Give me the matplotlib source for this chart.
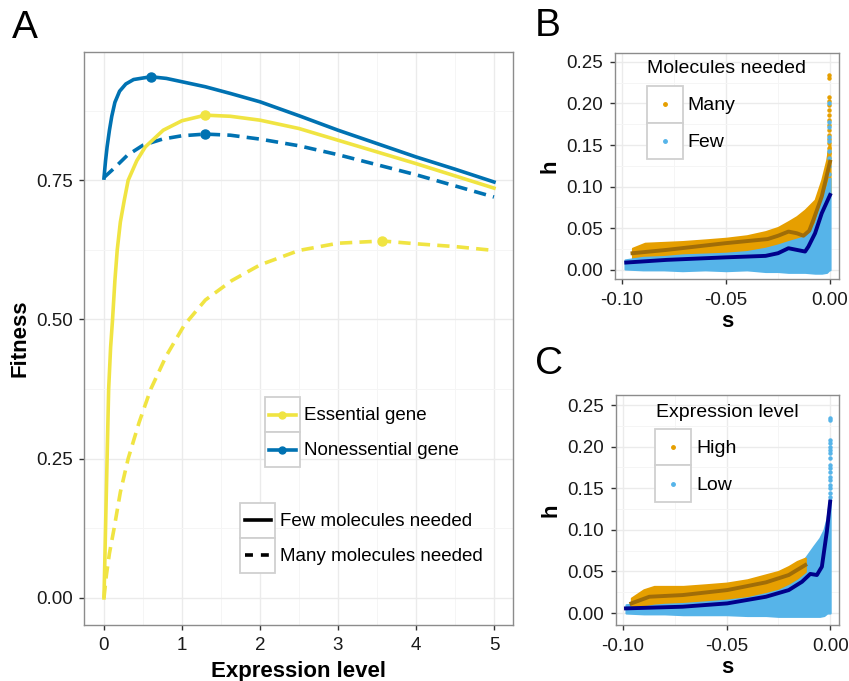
import numpy as np
import matplotlib
matplotlib.use('Agg')
import matplotlib.pyplot as plt
from matplotlib.lines import Line2D
from matplotlib.patches import Rectangle
from matplotlib.legend_handler import HandlerBase
from matplotlib.ticker import MultipleLocator, FormatStrFormatter

plt.rcParams['font.family'] = ['Liberation Sans', 'DejaVu Sans']

# ---- Panel A data ----
ess_few_x = [0, 0.01, 0.02, 0.04, 0.06, 0.085, 0.11, 0.14, 0.17, 0.21, 0.26, 0.31, 0.42,
             0.53, 0.76, 1.0, 1.3, 1.62, 2.0, 2.5, 3.0, 3.5, 4.0, 4.5, 5.0]
ess_few_y = [0.0, 0.06, 0.125, 0.25, 0.375, 0.45, 0.5, 0.57, 0.625, 0.675, 0.714, 0.75, 0.785,
             0.81, 0.84, 0.857, 0.867, 0.865, 0.858, 0.843, 0.822, 0.801, 0.78, 0.758, 0.736]
ess_many_x = [0, 0.03, 0.07, 0.13, 0.21, 0.31, 0.45, 0.6, 0.8, 1.03, 1.3, 1.64, 2.0, 2.5,
              3.0, 3.57, 4.0, 4.5, 5.0]
ess_many_y = [0.0, 0.04, 0.08, 0.125, 0.19, 0.25, 0.315, 0.375, 0.435, 0.49, 0.535, 0.57, 0.598,
              0.624, 0.637, 0.641, 0.636, 0.631, 0.624]
non_few_x = [0, 0.02, 0.04, 0.07, 0.1, 0.14, 0.2, 0.28, 0.38, 0.6, 0.8, 1.0, 1.3, 1.62, 2.0,
             2.5, 3.0, 3.5, 4.0, 4.5, 5.0]
non_few_y = [0.754, 0.785, 0.81, 0.84, 0.865, 0.89, 0.91, 0.923, 0.931, 0.936, 0.933, 0.927,
             0.918, 0.906, 0.891, 0.866, 0.84, 0.816, 0.792, 0.77, 0.747]
non_many_x = [0, 0.14, 0.3, 0.5, 0.75, 1.0, 1.3, 1.62, 2.0, 2.5, 3.0, 3.5, 4.0, 4.5, 5.0]
non_many_y = [0.755, 0.773, 0.795, 0.813, 0.824, 0.83, 0.833, 0.831, 0.824, 0.812, 0.796,
              0.778, 0.76, 0.74, 0.72]
peak_ess_x = [1.3, 3.57]
peak_ess_y = [0.867, 0.641]
peak_non_x = [0.6, 1.3]
peak_non_y = [0.936, 0.833]

# ---- Panel B data: point clouds as envelopes, smooth fits, spike points at s ~ 0 ----
many_s = [-0.095, -0.089, -0.080, -0.071, -0.060, -0.050, -0.040, -0.031, -0.025, -0.020,
          -0.016, -0.012, -0.0072, -0.004, -0.0016, -0.0005, 0.0]
many_hi = [0.026, 0.032, 0.033, 0.034, 0.036, 0.038, 0.041, 0.046, 0.051, 0.058, 0.064, 0.072,
           0.084, 0.108, 0.132, 0.15, 0.15]
many_lo = [0.012, 0.012, 0.013, 0.014, 0.015, 0.016, 0.017, 0.019, 0.021, 0.024, 0.026, 0.028,
           0.035, 0.05, 0.07, 0.09, 0.09]
few_s = [-0.0986, -0.09, -0.080, -0.071, -0.060, -0.050, -0.040, -0.031, -0.025, -0.020,
         -0.016, -0.012, -0.0072, -0.004, -0.0016, -0.0005, 0.0]
few_hi = [0.012, 0.015, 0.016, 0.018, 0.019, 0.020, 0.022, 0.026, 0.030, 0.034, 0.037, 0.040,
          0.056, 0.084, 0.10, 0.11, 0.11]
few_lo = [0.001, 0.0, 0.0, -0.001, 0.0, -0.001, 0.0, -0.002, -0.002, -0.003, -0.003, -0.003,
          -0.004, -0.004, -0.003, 0.0, 0.0]
many_fit_s = [-0.095, -0.0785, -0.0505, -0.030, -0.025, -0.020, -0.016, -0.0128, -0.010,
              -0.008, -0.004, 0.0]
many_fit_h = [0.020, 0.024, 0.032, 0.037, 0.041, 0.046, 0.044, 0.041, 0.047, 0.060, 0.088, 0.13]
few_fit_s = [-0.098, -0.0785, -0.0505, -0.031, -0.025, -0.020, -0.016, -0.012, -0.0104,
             -0.0072, -0.004, 0.0]
few_fit_h = [0.0088, 0.012, 0.015, 0.0168, 0.020, 0.026, 0.024, 0.022, 0.028, 0.044, 0.068,
             0.09]
many_spike_h = [0.234, 0.231, 0.208, 0.203, 0.198, 0.192, 0.186, 0.18, 0.174, 0.168, 0.162,
                0.157, 0.152, 0.146, 0.14]
few_spike_h = [0.2, 0.178, 0.172, 0.16, 0.155, 0.143, 0.135, 0.125, 0.115]

# ---- Panel C data ----
high_s = [-0.096, -0.090, -0.085, -0.080, -0.071, -0.060, -0.050, -0.040, -0.031, -0.025,
          -0.020, -0.016, -0.012]
high_hi = [0.018, 0.028, 0.032, 0.032, 0.032, 0.034, 0.036, 0.040, 0.046, 0.050, 0.056,
           0.062, 0.066]
high_lo = [0.006, 0.010, 0.012, 0.013, 0.014, 0.016, 0.018, 0.021, 0.026, 0.030, 0.036,
           0.042, 0.050]
low_s = [-0.0986, -0.09, -0.080, -0.071, -0.060, -0.050, -0.040, -0.031, -0.025, -0.020,
         -0.016, -0.012, -0.008, -0.005, -0.003, -0.0015, -0.0005, 0.0]
low_hi = [0.010, 0.012, 0.013, 0.014, 0.016, 0.018, 0.020, 0.024, 0.034, 0.050, 0.058, 0.066,
          0.080, 0.090, 0.100, 0.114, 0.134, 0.14]
low_lo = [0.0, -0.001, -0.001, -0.002, -0.002, -0.002, -0.003, -0.003, -0.004, -0.004,
          -0.004, -0.004, -0.004, -0.004, -0.003, 0.0, 0.0, 0.0]
high_fit_s = [-0.096, -0.0873, -0.0713, -0.0497, -0.031, -0.020, -0.012]
high_fit_h = [0.0116, 0.0196, 0.0216, 0.0276, 0.0369, 0.0457, 0.0577]
low_fit_s = [-0.0986, -0.0713, -0.0497, -0.031, -0.020, -0.0136, -0.0096, -0.0064, -0.004,
             -0.0016, 0.0]
low_fit_h = [0.0056, 0.0076, 0.0116, 0.0196, 0.0276, 0.0376, 0.047, 0.0457, 0.0557, 0.098,
             0.134]
low_spike_h = [0.234, 0.232, 0.208, 0.204, 0.2, 0.196, 0.192, 0.186, 0.178, 0.174, 0.17,
               0.164, 0.16, 0.154, 0.15, 0.144, 0.14]

YELLOW = '#F0E442'
BLUE = '#0072B2'
ORANGE = '#E69F00'
SKY = '#56B4E9'
ORANGE_FIT = '#A06D08'
BLUE_FIT = '#00008B'


class KeyBox(HandlerBase):
    # ggplot-like legend key: grey bordered square with the glyph inside
    def create_artists(self, legend, orig, xd, yd, w, h, fs, trans):
        box = Rectangle((-xd, -yd), w, h, facecolor='white', edgecolor='#d0d0d0',
                        lw=1.3, transform=trans)
        cy = -yd + h / 2
        arts = [box]
        if orig.get_linestyle() not in ('None', 'none', ''):
            ln = Line2D([-xd + 0.12 * w, -xd + 0.88 * w], [cy, cy])
            ln.update_from(orig)
            ln.set_marker('None')
            ln.set_transform(trans)
            arts.append(ln)
        if orig.get_marker() not in ('None', 'none', '', None):
            mk = Line2D([-xd + w / 2], [cy])
            mk.update_from(orig)
            mk.set_linestyle('None')
            mk.set_transform(trans)
            arts.append(mk)
        return arts


def style_axes(ax):
    for sp in ax.spines.values():
        sp.set_color('#8c8c8c')
        sp.set_linewidth(1.0)
    ax.grid(which='major', color='#EBEBEB', lw=1.0)
    ax.grid(which='minor', color='#F5F5F5', lw=0.7)
    ax.set_axisbelow(True)
    ax.tick_params(which='major', direction='out', length=3.5, width=1.0, color='#333333',
                   labelsize=13.5, labelcolor='#1a1a1a')
    ax.tick_params(axis='x', which='major', pad=5.5)
    ax.tick_params(axis='y', which='major', pad=5)
    ax.tick_params(which='minor', length=0)


def legend_kw(fs):
    return dict(handler_map={Line2D: KeyBox()}, loc='upper left', frameon=False,
                borderpad=0, borderaxespad=0, handlelength=1.87, handleheight=2.5,
                labelspacing=0, handletextpad=0.25, fontsize=fs)


fig = plt.figure(figsize=(8.49, 6.81), dpi=100)

# ---------------- Panel A ----------------
axA = fig.add_axes([0.0995, 0.0828, 0.5053, 0.8413])
style_axes(axA)
dash = (3.4, 2.0)
axA.plot(non_many_x, non_many_y, color=BLUE, lw=2.6, dashes=dash)
axA.plot(non_few_x, non_few_y, color=BLUE, lw=2.6)
axA.plot(ess_many_x, ess_many_y, color=YELLOW, lw=2.6, dashes=dash)
axA.plot(ess_few_x, ess_few_y, color=YELLOW, lw=2.6)
axA.plot(peak_non_x, peak_non_y, 'o', color=BLUE, ms=6.5)
axA.plot(peak_ess_x, peak_ess_y, 'o', color=YELLOW, ms=6.5)
axA.set_xlim(-0.25, 5.25)
axA.set_ylim(-0.048, 0.981)
axA.xaxis.set_major_locator(MultipleLocator(1))
axA.xaxis.set_minor_locator(MultipleLocator(0.5))
axA.yaxis.set_major_locator(MultipleLocator(0.25))
axA.yaxis.set_minor_locator(MultipleLocator(0.125))
axA.yaxis.set_major_formatter(FormatStrFormatter('%.2f'))
axA.set_xlabel('Expression level', fontsize=16, fontweight='bold', labelpad=5)
axA.set_ylabel('Fitness', fontsize=16, fontweight='bold', labelpad=4)

gene_handles = [Line2D([], [], color=YELLOW, lw=2.6, marker='o', ms=5),
                Line2D([], [], color=BLUE, lw=2.6, marker='o', ms=5)]
legA1 = axA.legend(gene_handles, ['Essential gene', 'Nonessential gene'],
                   bbox_to_anchor=(0.42, 0.397), **legend_kw(13.5))
axA.add_artist(legA1)
mol_handles = [Line2D([], [], color='black', lw=2.6),
               Line2D([], [], color='black', lw=2.6, dashes=(2.2, 2.2))]
axA.legend(mol_handles, ['Few molecules needed', 'Many molecules needed'],
           bbox_to_anchor=(0.3635, 0.213), **legend_kw(13.5))


def scatter_panel(ax):
    style_axes(ax)
    ax.set_xlim(-0.1034, 0.0043)
    ax.xaxis.set_major_locator(MultipleLocator(0.05))
    ax.xaxis.set_minor_locator(MultipleLocator(0.025))
    ax.yaxis.set_major_locator(MultipleLocator(0.05))
    ax.yaxis.set_minor_locator(MultipleLocator(0.025))
    ax.xaxis.set_major_formatter(FormatStrFormatter('%.2f'))
    ax.yaxis.set_major_formatter(FormatStrFormatter('%.2f'))
    ax.set_xlabel('s', fontsize=16, fontweight='bold', labelpad=2)
    ax.set_ylabel('h', fontsize=16, fontweight='bold', labelpad=4)


# ---------------- Panel B ----------------
axB = fig.add_axes([0.7244, 0.5903, 0.2638, 0.3323])
scatter_panel(axB)
axB.set_ylim(-0.011, 0.261)
axB.fill_between(many_s, many_lo, many_hi, color=ORANGE, lw=1.5, edgecolor=ORANGE)
axB.plot(np.zeros(len(many_spike_h)) - 0.0003, many_spike_h, 'o', color=ORANGE, ms=2.2)
axB.fill_between(few_s, few_lo, few_hi, color=SKY, lw=1.5, edgecolor=SKY)
axB.plot(np.zeros(len(few_spike_h)) - 0.0003, few_spike_h, 'o', color=SKY, ms=2.2)
axB.plot(many_fit_s, many_fit_h, color=ORANGE_FIT, lw=2.8)
axB.plot(few_fit_s, few_fit_h, color=BLUE_FIT, lw=2.8)
pt_handles = [Line2D([], [], ls='None', marker='o', ms=2.5, color=ORANGE),
              Line2D([], [], ls='None', marker='o', ms=2.5, color=SKY)]
axB.legend(pt_handles, ['Many', 'Few'], bbox_to_anchor=(0.141, 0.852), **legend_kw(14))
axB.text(0.145, 0.968, 'Molecules needed', transform=axB.transAxes, fontsize=14,
         ha='left', va='top')

# ---------------- Panel C ----------------
axC = fig.add_axes([0.7256, 0.0822, 0.2627, 0.3377])
scatter_panel(axC)
axC.set_ylim(-0.0144, 0.262)
axC.fill_between(low_s, low_lo, low_hi, color=SKY, lw=1.5, edgecolor=SKY)
axC.plot(np.zeros(len(low_spike_h)) - 0.0003, low_spike_h, 'o', color=SKY, ms=2.2)
axC.fill_between(high_s, high_lo, high_hi, color=ORANGE, lw=1.5, edgecolor=ORANGE)
axC.plot(high_fit_s, high_fit_h, color=ORANGE_FIT, lw=2.8)
axC.plot(low_fit_s, low_fit_h, color=BLUE_FIT, lw=2.8)
axC.legend(pt_handles, ['High', 'Low'], bbox_to_anchor=(0.175, 0.852), **legend_kw(14))
axC.text(0.179, 0.963, 'Expression level', transform=axC.transAxes, fontsize=14,
         ha='left', va='top')

# panel letters
fig.text(0.014, 0.985, 'A', fontsize=28, va='top', ha='left')
fig.text(0.630, 0.988, 'B', fontsize=28, va='top', ha='left')
fig.text(0.630, 0.492, 'C', fontsize=28, va='top', ha='left')

fig.savefig('out.png', dpi=100)
